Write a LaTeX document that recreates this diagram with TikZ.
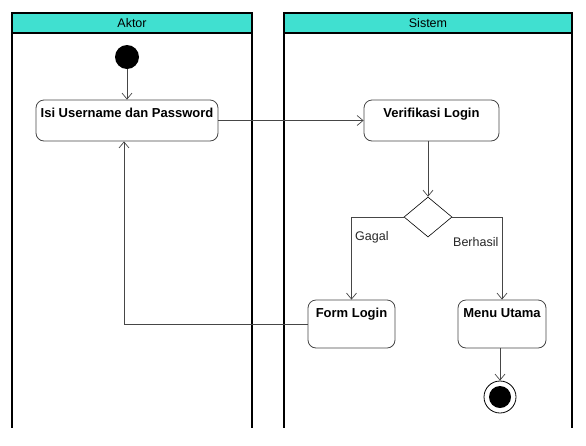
\documentclass[tikz,border=0pt]{standalone}
\usepackage{fontspec}
\setmainfont{Liberation Sans}
\usepackage{tikz}
\usetikzlibrary{shapes.geometric, arrows.meta, positioning}
\definecolor{laneteal}{RGB}{64,224,208}
\definecolor{edgegray}{RGB}{70,70,70}
\tikzstyle{lanehead} = [draw=black, line width=1.6pt, fill=laneteal]
\tikzstyle{laneline} = [draw=black, line width=1.6pt]
\tikzstyle{activity} = [rectangle, rounded corners=8pt, draw=edgegray, line width=0.8pt, font=\fontsize{13}{15}\selectfont\bfseries, inner xsep=3pt, inner ysep=4pt, text height=13pt]
\tikzstyle{decision} = [diamond, draw=black, line width=0.6pt, minimum width=48pt, minimum height=40pt, inner sep=0pt, aspect=1.2]
\tikzstyle{arrow}    = [draw=edgegray, line width=0.7pt, -{Straight Barb[length=6pt, width=10pt]}]
\tikzstyle{guard}    = [font=\fontsize{12.5}{14}\selectfont, text=black!85]
\tikzset{every node/.style={align=center}}

\begin{document}
\begin{tikzpicture}[x=1pt, y=-1pt]
    \useasboundingbox (0,0) rectangle (586,445);
    % swimlanes
    \draw[lanehead] (12,13) rectangle (252,33);
    \draw[lanehead] (284,13) rectangle (572,33);
    \draw[laneline] (12,13) -- (12,428);
    \draw[laneline] (252,13) -- (252,428);
    \draw[laneline] (284,13) -- (284,428);
    \draw[laneline] (572,13) -- (572,428);
    \node (aktor)  at (132,23) {\fontsize{12.5}{14}\selectfont Aktor};
    \node (sistem) at (428,23) {\fontsize{12.5}{14}\selectfont Sistem};

    % nodes
    \node[circle, fill=black, minimum size=24pt, inner sep=0pt] (start) at (127,57) {};
    \node[activity, minimum width=182pt, text depth=20pt] (isi) at (127,120.5) {Isi Username dan Password};
    \node[activity, minimum width=135pt, text depth=20pt] (verif) at (431.5,120.5) {Verifikasi Login};
    \node[decision] (dec) at (428,217) {};
    \node[activity, minimum width=87pt, text depth=27pt] (form) at (351.5,324) {Form Login};
    \node[activity, minimum width=88pt, text depth=27pt] (menu) at (502,324) {Menu Utama};
    \node[circle, draw=black, line width=0.8pt, minimum size=32pt, inner sep=0pt] (stop) at (500,397) {};
    \node[circle, fill=black, minimum size=22pt, inner sep=0pt] (stopdot) at (stop) {};

    % connectors
    \draw[arrow] (start) -- (isi);
    \draw[arrow] (isi) -- (verif);
    \draw[arrow] (verif.south -| dec.north) -- (dec.north);
    \draw[arrow] (dec.west) -- (form.north |- dec.west) -- node[pos=0.25, right, guard]{Gagal} (form.north);
    \draw[arrow] (dec.east) -- (menu.north |- dec.east) -- node[pos=0.3, left, guard]{Berhasil} (menu.north);
    \draw[arrow] (menu.south -| stop.north) -- (stop.north);
    \draw[arrow] (form.west) -| (isi.south -| 124,0);
\end{tikzpicture}
\end{document}
